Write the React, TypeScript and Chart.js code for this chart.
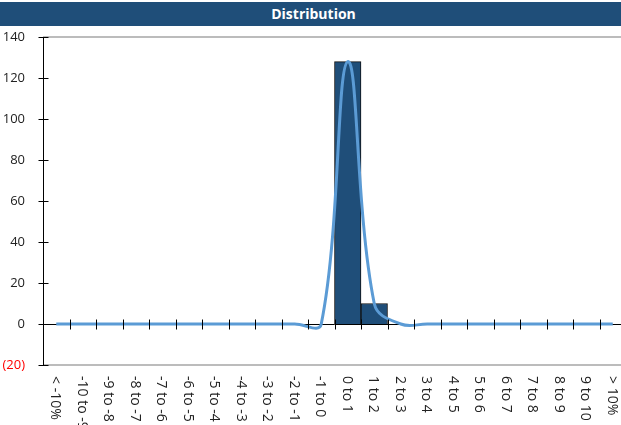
import React, { useEffect, useRef } from "react";
import { Chart, registerables } from "chart.js";

Chart.register(...registerables);

const title = "Distribution";
const categories = [
  "< -10%", "-10 to -9", "-9 to -8", "-8 to -7", "-7 to -6", "-6 to -5", "-5 to -4",
  "-4 to -3", "-3 to -2", "-2 to -1", "-1 to 0", "0 to 1", "1 to 2", "2 to 3",
  "3 to 4", "4 to 5", "5 to 6", "6 to 7", "7 to 8", "8 to 9", "9 to 10", "> 10%",
];
const counts = [0, 0, 0, 0, 0, 0, 0, 0, 0, 0, 0, 128, 10, 0, 0, 0, 0, 0, 0, 0, 0, 0];
const curve = [0, 0, 0, 0, 0, 0, 0, 0, 0, 0, 0, 128, 10, 0, 0, 0, 0, 0, 0, 0, 0, 0];
const yMin = -20;
const yMax = 140;
const yStep = 20;

const FONT = "'Open Sans', 'DejaVu Sans', sans-serif";

const decoPlugin = {
  id: "deco",
  beforeDatasetsDraw(chart: any) {
    const { ctx, chartArea: a, scales } = chart;
    const y = scales.y;
    const line = (x1: number, y1: number, x2: number, y2: number) => {
      ctx.beginPath();
      ctx.moveTo(x1, y1);
      ctx.lineTo(x2, y2);
      ctx.stroke();
    };
    ctx.save();
    ctx.strokeStyle = "#a6a6a6";
    ctx.lineWidth = 1.5;
    [yMax, yMin].forEach((v) => {
      const py = Math.round(y.getPixelForValue(v));
      line(a.left, py, a.right, py);
    });
    ctx.strokeStyle = "#000";
    ctx.lineWidth = 1;
    const zy = Math.round(y.getPixelForValue(0)) + 0.5;
    line(a.left, zy, a.right, zy);
    const ax = Math.round(a.left) + 0.5;
    line(ax, a.top, ax, a.bottom);
    y.ticks.forEach((t: any) => {
      const py = Math.round(y.getPixelForValue(t.value)) + 0.5;
      line(ax - 5, py, ax + 5, py);
    });
    ctx.restore();
  },
  afterDatasetsDraw(chart: any) {
    const { ctx, chartArea: a, scales } = chart;
    const x = scales.x;
    const y = scales.y;
    ctx.save();
    ctx.strokeStyle = "#000";
    ctx.lineWidth = 1;
    const zy = Math.round(y.getPixelForValue(0)) + 0.5;
    for (let i = 1; i < categories.length; i++) {
      const bx = Math.round((x.getPixelForValue(i - 1) + x.getPixelForValue(i)) / 2) + 0.5;
      ctx.beginPath();
      ctx.moveTo(bx, zy - 5);
      ctx.lineTo(bx, zy + 5);
      ctx.stroke();
    }
    ctx.fillStyle = "#222";
    ctx.font = `14px ${FONT}`;
    ctx.textAlign = "left";
    ctx.textBaseline = "middle";
    categories.forEach((c, i) => {
      const cx = x.getPixelForValue(i);
      ctx.save();
      ctx.translate(cx - 1, a.bottom + 11);
      ctx.rotate(Math.PI / 2);
      ctx.fillText(c, 0, 0);
      ctx.restore();
    });
    ctx.restore();
  },
};

export default function App() {
  const ref = useRef<HTMLCanvasElement | null>(null);
  useEffect(() => {
    if (!ref.current) return;
    const chart = new Chart(ref.current, {
      type: "bar",
      data: {
        labels: categories,
        datasets: [
          {
            type: "line",
            data: curve,
            borderColor: "#5B9BD5",
            borderWidth: 3,
            pointRadius: 0,
            tension: 0.4,
            fill: false,
            order: 0,
          } as any,
          {
            type: "bar",
            data: counts,
            backgroundColor: "#1F4E79",
            borderColor: "#111",
            borderWidth: 1,
            barPercentage: 1,
            categoryPercentage: 1,
            order: 1,
          },
        ],
      },
      options: {
        animation: false,
        responsive: false,
        layout: { padding: { left: 0, right: 4, top: 37, bottom: 60 } },
        plugins: { legend: { display: false }, tooltip: { enabled: false }, title: { display: false } },
        scales: {
          x: { type: "category", display: false, offset: true },
          y: {
            min: yMin,
            max: yMax,
            afterFit: (s: any) => {
              s.width = 43;
            },
            grid: { display: false, drawTicks: false },
            border: { display: false },
            ticks: {
              stepSize: yStep,
              padding: 18,
              font: { family: FONT, size: 13 },
              color: (c: any) => (c.tick && c.tick.value < 0 ? "#ff0000" : "#222"),
              callback: (v: any) => (Number(v) < 0 ? `(${-Number(v)})` : `${v}`),
            },
          },
        },
      },
      plugins: [decoPlugin],
    });
    return () => chart.destroy();
  }, []);

  return (
    <div style={{ position: "fixed", left: 0, top: 0, width: 621, height: 425, overflow: "hidden", background: "#fff" }}>
      <div
        style={{
          position: "absolute",
          left: 0,
          top: 2,
          width: 627,
          height: 24,
          background: "#1F4E79",
          color: "#fff",
          fontFamily: FONT,
          fontWeight: 700,
          fontSize: 14,
          lineHeight: "24px",
          textAlign: "center",
        }}
      >
        {title}
      </div>
      <canvas ref={ref} width={630} height={425} style={{ position: "absolute", left: 0, top: 0, width: 630, height: 425 }} />
    </div>
  );
}
